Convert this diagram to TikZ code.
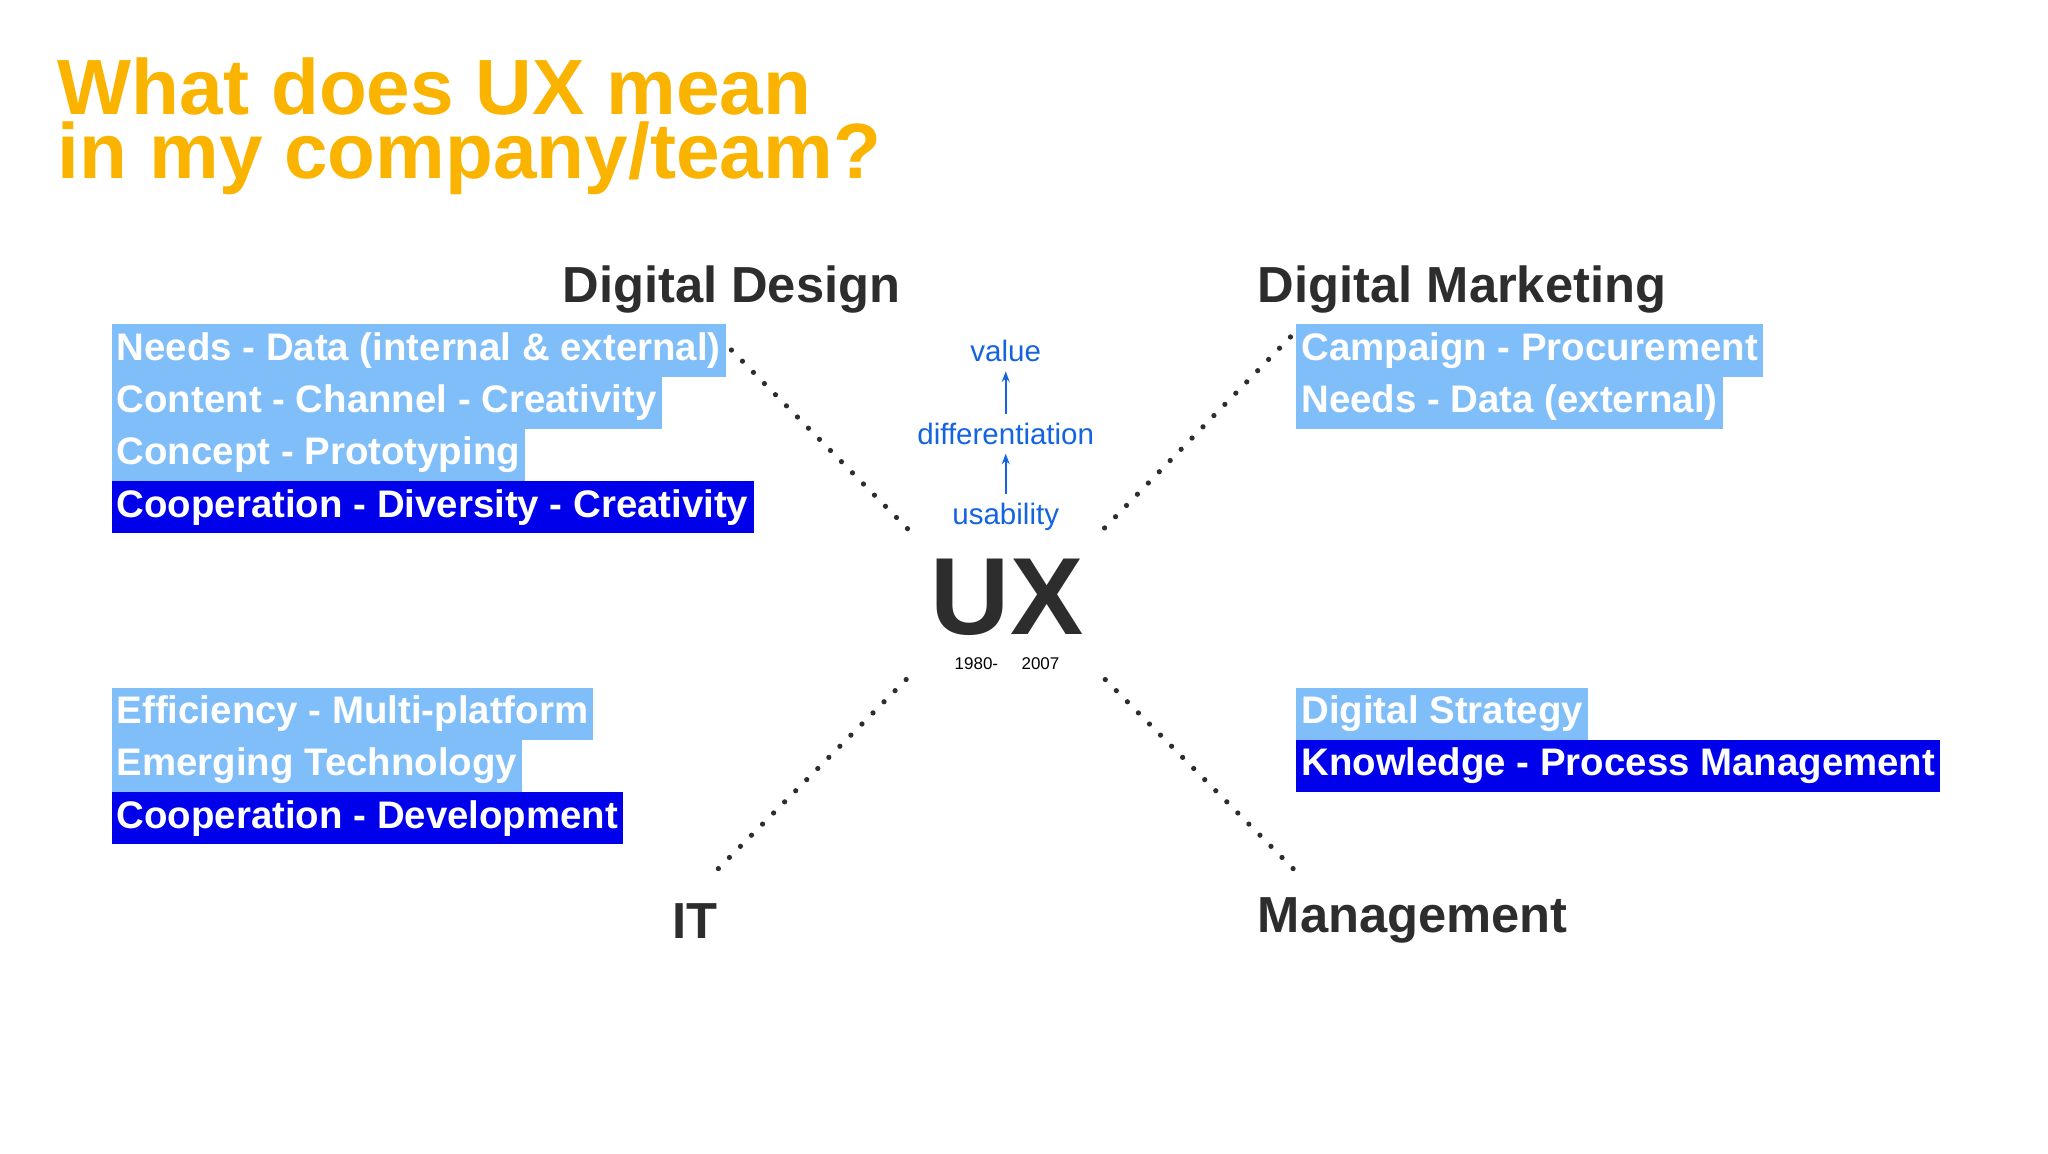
\documentclass[tikz,border=0pt]{standalone}
\usepackage{fontspec}
\setmainfont{Liberation Sans}
\usetikzlibrary{arrows.meta}
\definecolor{ttl}{RGB}{250,180,0}
\definecolor{lb}{RGB}{128,190,250}
\definecolor{db}{RGB}{0,0,235}
\definecolor{dk}{RGB}{45,45,45}
\definecolor{bl}{RGB}{20,100,225}
\begin{document}
\begin{tikzpicture}[x=0.5pt,y=-0.5pt,
  box/.style={anchor=north west,minimum height=20pt,inner xsep=2pt,inner ysep=0pt,text=white,font=\fontsize{14.7}{14.7}\selectfont\bfseries},
  lbox/.style={box,fill=lb},
  dbox/.style={box,fill=db},
  head/.style={text=dk,font=\fontsize{19.4}{19.4}\selectfont\bfseries},
  dots/.style={line width=2pt,dotted,dk,line cap=round,dash pattern=on 0pt off 6pt},
  ux/.style={text=bl,font=\fontsize{11.3}{11.3}\selectfont}]
\useasboundingbox[fill=white] (0,0) rectangle (1568,883);
\node[anchor=north west,text=ttl,font=\fontsize{30}{24.5}\selectfont\bfseries,align=left,inner sep=0pt] (title) at (44,44) {What does UX mean\\in my company/team?};
\node[head] (dd) at (560,222) {Digital Design};
\node[head,anchor=west] (dm) at (956,222) {Digital Marketing};
\node[head] (it) at (532,705) {IT};
\node[head,anchor=west] (mg) at (956,705) {Management};
\node[lbox] (a1) at (85,248) {Needs - Data (internal \& external)};
\node[lbox] (a2) at (85,288) {Content - Channel - Creativity};
\node[lbox] (a3) at (85,328) {Concept - Prototyping};
\node[dbox] (a4) at (85,368) {Cooperation - Diversity - Creativity};
\node[lbox] (b1) at (992,248) {Campaign - Procurement};
\node[lbox] (b2) at (992,288) {Needs - Data (external)};
\node[lbox] (c1) at (85,526) {Efficiency - Multi-platform};
\node[lbox] (c2) at (85,566) {Emerging Technology};
\node[dbox] (c3) at (85,606) {Cooperation - Development};
\node[lbox] (d1) at (992,526) {Digital Strategy};
\node[dbox] (d2) at (992,566) {Knowledge - Process Management};
\node[text=dk,font=\fontsize{42}{42}\selectfont\bfseries,inner sep=0pt] (ux) at (771,457) {UX};
\node[text=black,font=\fontsize{6.5}{6.5}\selectfont,inner sep=1pt] (yr) at (771,508) {1980-\hspace{9pt}2007};
\node[ux] (v) at (770,269) {value};
\node[ux] (df) at (770,332) {differentiation};
\node[ux] (us) at (770,396) {usability};
\draw[bl,line width=0.8pt,-{Stealth[length=4pt]}] (us.north) -- (df.south);
\draw[bl,line width=0.8pt,-{Stealth[length=4pt]}] (df.north) -- (v.south);
\coordinate (p1) at (698,408); \coordinate (p2) at (842,408);
\coordinate (p3) at (698,516); \coordinate (p4) at (842,516);
\coordinate (q1) at (560,268); \coordinate (q2) at (988,258);
\coordinate (q3) at (550,665); \coordinate (q4) at (990,665);
\draw[dots] (q1) -- (p1);
\draw[dots] (q2) -- (p2);
\draw[dots] (q3) -- (p3);
\draw[dots] (q4) -- (p4);
\end{tikzpicture}
\end{document}
